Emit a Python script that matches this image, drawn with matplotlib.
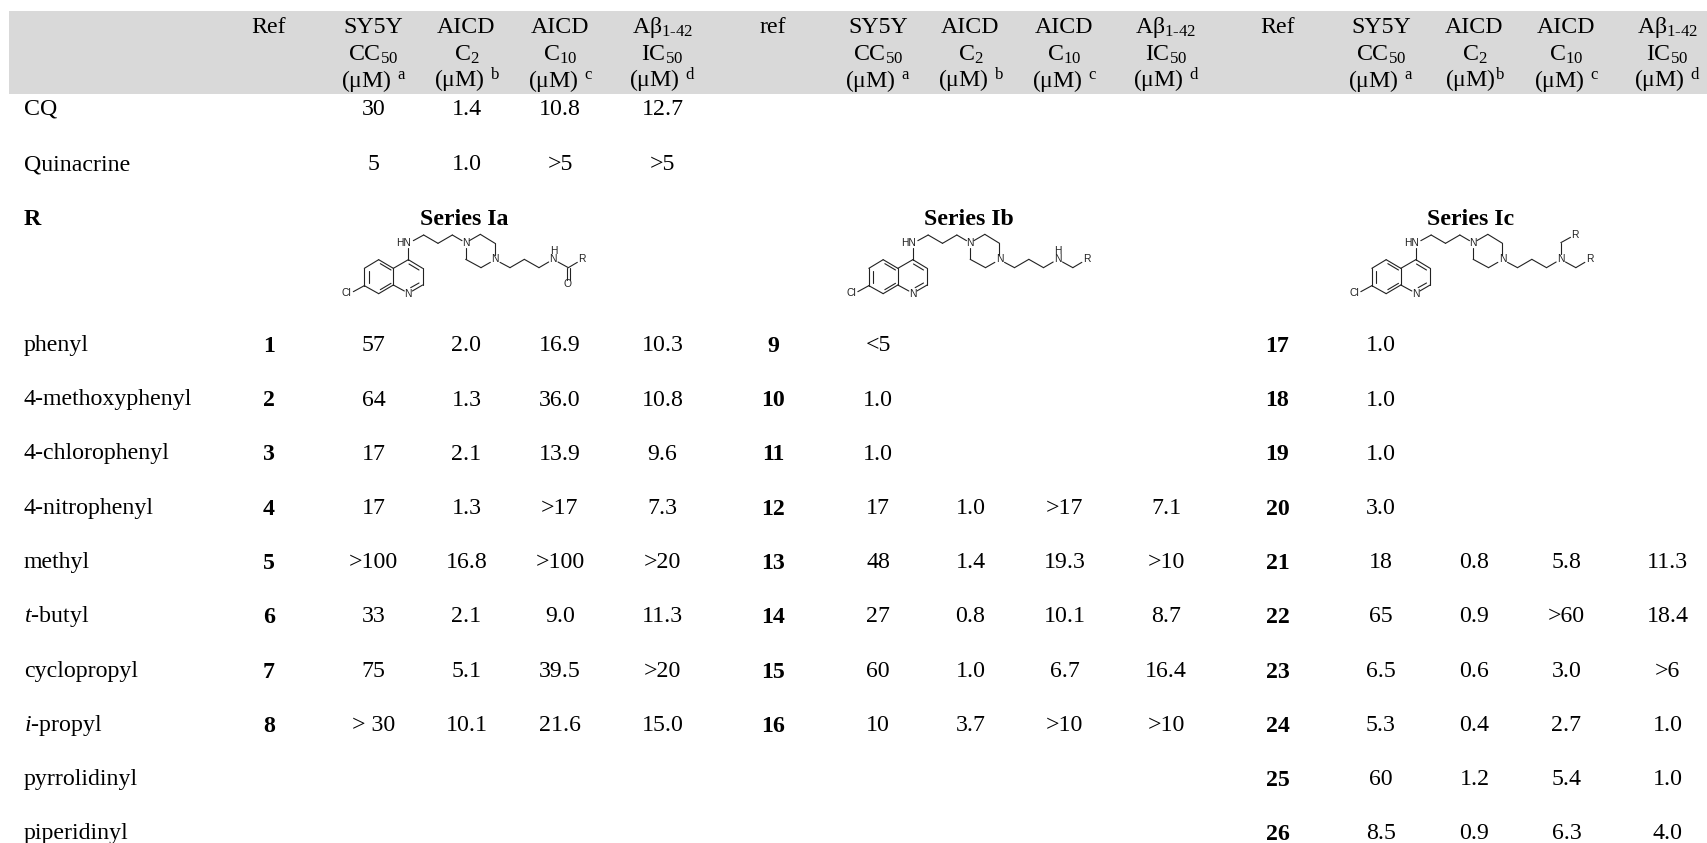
import matplotlib
matplotlib.use("Agg")
import matplotlib.pyplot as plt
from matplotlib.patches import Rectangle

plt.rcParams['font.family'] = ['Liberation Serif', 'DejaVu Serif']
plt.rcParams['mathtext.fontset'] = 'custom'
plt.rcParams['mathtext.rm'] = 'Liberation Serif'
plt.rcParams['mathtext.it'] = 'Liberation Serif:italic'
plt.rcParams['mathtext.bf'] = 'Liberation Serif:bold'
plt.rcParams['mathtext.default'] = 'rm'

# ---------- content ----------
row_labels = ['CQ', 'Quinacrine', 'R', 'phenyl', '4-methoxyphenyl', '4-chlorophenyl',
              '4-nitrophenyl', 'methyl', '$\\mathit{t}$-butyl', 'cyclopropyl',
              '$\\mathit{i}$-propyl', 'pyrrolidinyl', 'piperidinyl']

hdr_a = ['SY5Y', 'AICD', 'AICD', 'A\u03b2$_{1\\text{-}42}$']
hdr_b = ['CC$_{50}$', 'C$_{2}$', 'C$_{10}$', 'IC$_{50}$']
hdr_c1 = ['(\u03bcM) $^{a}$', '(\u03bcM) $^{b}$', '(\u03bcM) $^{c}$', '(\u03bcM) $^{d}$']
hdr_c3 = ['(\u03bcM) $^{a}$', '(\u03bcM)$^{b}$', '(\u03bcM) $^{c}$', '(\u03bcM) $^{d}$']
ref_heads = ['Ref', 'ref', 'Ref']
series_names = ['Series Ia', 'Series Ib', 'Series Ic']

cq = ['30', '1.4', '10.8', '12.7']
quinacrine = ['5', '1.0', '>5', '>5']

refs_a = ['1', '2', '3', '4', '5', '6', '7', '8']
a_cc50 = ['57', '64', '17', '17', '>100', '33', '75', '> 30']
a_c2 = ['2.0', '1.3', '2.1', '1.3', '16.8', '2.1', '5.1', '10.1']
a_c10 = ['16.9', '36.0', '13.9', '>17', '>100', '9.0', '39.5', '21.6']
a_ic50 = ['10.3', '10.8', '9.6', '7.3', '>20', '11.3', '>20', '15.0']

refs_b = ['9', '10', '11', '12', '13', '14', '15', '16']
b_cc50 = ['<5', '1.0', '1.0', '17', '48', '27', '60', '10']
b_c2 = ['', '', '', '1.0', '1.4', '0.8', '1.0', '3.7']
b_c10 = ['', '', '', '>17', '19.3', '10.1', '6.7', '>10']
b_ic50 = ['', '', '', '7.1', '>10', '8.7', '16.4', '>10']

refs_c = ['17', '18', '19', '20', '21', '22', '23', '24', '25', '26']
c_cc50 = ['1.0', '1.0', '1.0', '3.0', '18', '65', '6.5', '5.3', '60', '8.5']
c_c2 = ['', '', '', '', '0.8', '0.9', '0.6', '0.4', '1.2', '0.9']
c_c10 = ['', '', '', '', '5.8', '>60', '3.0', '2.7', '5.4', '6.3']
c_ic50 = ['', '', '', '', '11.3', '18.4', '>6', '1.0', '1.0', '4.0']

# ---------- layout (pixels) ----------
W, H = 1708, 843
FS = 17.2
ref_x = [269, 773, 1277.5]
val_x = [[373.5, 466.5, 560, 662.5], [878, 970.5, 1064.5, 1166], [1381, 1474.5, 1566.5, 1667.5]]
hdr_y = [32.7, 60.8, 87.5]
y_cq, y_quin, y_r = 114.8, 170, 225
y_rows = [351, 405.5, 459.5, 513.7, 567.8, 622.2, 676.6, 731, 785, 839]
label_x = 24
series_x = [464, 969, 1471]
mol_dx = [0, 504.5, 1007.5]

fig = plt.figure(figsize=(W / 100, H / 100), dpi=100)
ax = fig.add_axes([0, 0, 1, 1])
ax.set_xlim(0, W)
ax.set_ylim(H, 0)
ax.axis('off')
ax.add_patch(Rectangle((9, 11), W - 9, 82.5, fc='#d9d9d9', ec='none', zorder=0))


def T(x, y, s, ha='center', **kw):
    kw.setdefault('fontsize', FS)
    ax.text(x, y, s, ha=ha, va='baseline', color='black', **kw)


# header
for g in range(3):
    T(ref_x[g], hdr_y[0], ref_heads[g])
    c_row = hdr_c3 if g == 2 else hdr_c1
    for j in range(4):
        T(val_x[g][j], hdr_y[0], hdr_a[j])
        T(val_x[g][j], hdr_y[1], hdr_b[j])
        T(val_x[g][j], hdr_y[2], c_row[j])

# row labels
for s, y in zip(row_labels, [y_cq, y_quin, y_r] + y_rows):
    if s == 'R':
        T(label_x, y, s, ha='left', fontweight='bold')
    else:
        T(label_x, y, s, ha='left')

# reference compounds
for j in range(4):
    T(val_x[0][j], y_cq, cq[j])
    T(val_x[0][j], y_quin, quinacrine[j])

# series
groups = [(refs_a, a_cc50, a_c2, a_c10, a_ic50),
          (refs_b, b_cc50, b_c2, b_c10, b_ic50),
          (refs_c, c_cc50, c_c2, c_c10, c_ic50)]
for g, (refs, *cols) in enumerate(groups):
    for i, r in enumerate(refs):
        T(ref_x[g], y_rows[i] + 1, r, fontweight='bold')
    for j, col in enumerate(cols):
        for i, v in enumerate(col):
            if v:
                T(val_x[g][j], y_rows[i], v)
    T(series_x[g], y_r, series_names[g], fontweight='bold')

# ---------- skeletal formulae: bond sketch in sub-pixel units of the drawing ----------
BONDS_CORE = [
    # benzene ring
    ((133, 182), (133, 130)), ((133, 130), (176, 104)), ((176, 104), (220, 130)),
    ((220, 130), (220, 180)), ((220, 180), (176, 206)), ((176, 206), (133, 182)),
    ((146, 175), (146, 137)), ((181, 116), (213, 135)), ((181, 194), (213, 175)),
    # pyridine ring
    ((220, 130), (265, 104)), ((265, 104), (308, 130)), ((308, 130), (308, 180)),
    ((308, 180), (277, 198)), ((253, 198), (220, 180)),
    ((267, 117), (297, 135)), ((297, 174), (272, 188)),
    # Cl and 4-amino link
    ((133, 182), (100, 200)), ((265, 104), (265, 70)),
    # propyl linker to piperazine
    ((280, 47), (311, 30)), ((311, 30), (354, 55)), ((354, 55), (397, 30)), ((397, 30), (426, 47)),
    # piperazine
    ((448, 47), (481, 28)), ((481, 28), (525, 55)), ((525, 55), (525, 90)),
    ((511, 112), (483, 128)), ((483, 128), (437, 103)), ((437, 103), (437, 70)),
    # propyl linker to terminal amine
    ((540, 112), (570, 128)), ((570, 128), (613, 103)), ((613, 103), (657, 128)), ((657, 128), (686, 111)),
]
BONDS_TAIL = [((714, 111), (745, 128)), ((745, 128), (772, 112))]
BONDS_CO = [((741, 128), (741, 164)), ((750, 128), (750, 164))]
BONDS_BRANCH = [((700, 88), (700, 53)), ((700, 53), (729, 37))]


def draw_mol(dx, kind):
    bonds = list(BONDS_CORE) + BONDS_TAIL
    if kind == 'a':
        bonds += BONDS_CO
    if kind == 'c':
        bonds += BONDS_BRANCH
    px = lambda z: (320 + dx + z[0] / 3, 225 + z[1] / 3)
    for p, q in bonds:
        a, b = px(p), px(q)
        ax.plot([a[0], b[0]], [a[1], b[1]], color='#222222', lw=0.8, solid_capstyle='round')
    labels = [((80, 205), 'Cl'), ((265, 207), 'N'), ((252, 55), 'HN'), ((437, 55), 'N'),
              ((525, 103), 'N'), ((700, 103), 'N'), ((787, 103), 'R')]
    if kind != 'c':
        labels.append(((700, 78), 'H'))
    if kind == 'a':
        labels.append(((743, 178), 'O'))
    if kind == 'c':
        labels.append(((742, 30), 'R'))
    for z, s in labels:
        x, y = px(z)
        ax.text(x, y, s, ha='center', va='center', fontsize=7.4, color='#222222',
                family='Liberation Sans')


for d, k in zip(mol_dx, 'abc'):
    draw_mol(d, k)

fig.savefig('out.png', dpi=100, facecolor='white')
